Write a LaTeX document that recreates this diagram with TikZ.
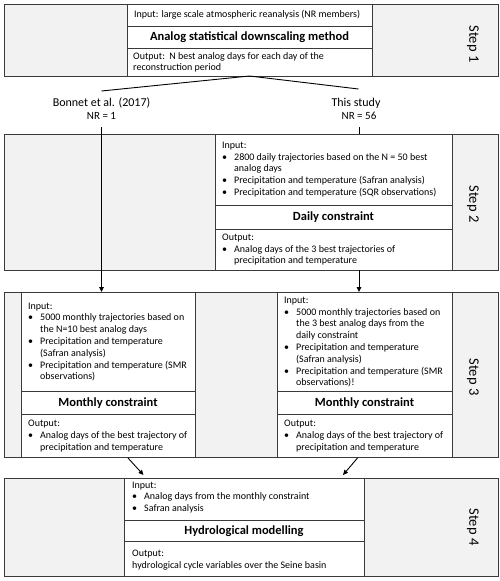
\documentclass[tikz,border=0pt]{standalone}
\usepackage{fontspec}
\setmainfont{Carlito}
\usetikzlibrary{arrows.meta}
\definecolor{panelgray}{HTML}{F2F2F2}
\definecolor{linec}{HTML}{3A3A3A}
\newcommand{\bl}{\makebox[12pt][l]{\textbullet}}
\newcommand{\ind}{\hspace*{12pt}}
\begin{document}
\begin{tikzpicture}[x=1pt,y=-1pt,
  panel/.style={draw=linec, line width=1pt, fill=panelgray, anchor=north west, inner sep=0pt, outer sep=0pt},
  cell/.style={draw=linec, line width=0.9pt, fill=white, anchor=north west, inner sep=0pt, outer sep=0pt},
  body/.style={anchor=west, align=left, inner sep=0pt, font=\fontsize{10}{11.8}\selectfont},
  title/.style={font=\fontsize{12.5}{14}\selectfont\bfseries},
  steplabel/.style={rotate=-90, font=\fontsize{14.5}{16}\selectfont, inner sep=0pt},
  src/.style={font=\fontsize{12}{14}\selectfont, inner sep=0pt},
  nrlab/.style={font=\fontsize{11}{13}\selectfont, inner sep=0pt},
  conn/.style={draw=black, line width=0.9pt},
  arr/.style={conn, -{Triangle[length=5pt,width=4.5pt]}},
]
\useasboundingbox (0,0) rectangle (500,581);

% ---------- Step 1 ----------
\node[panel, minimum width=494pt, minimum height=72pt] (p1) at (4,4) {};
\node[cell, minimum width=245pt, minimum height=22.3pt] (s1in) at (127,4) {};
\node[cell, title, minimum width=245pt, minimum height=22pt] (s1t) at (127,26.3) {Analog statistical downscaling method};
\node[cell, minimum width=245pt, minimum height=27.7pt] (s1out) at (127,48.3) {};
\node[body] (t1in) at (134,15) {Input: large scale atmospheric reanalysis (NR members)};
\node[body] (t1out) at (133,62.3) {Output:\ \ N best analog days for each day of the\\reconstruction period};
\node[steplabel] (l1) at (473,44) {Step 1};

% ---------- Step 2 ----------
\node[panel, minimum width=494pt, minimum height=136pt] (p2) at (4,134) {};
\node[cell, minimum width=237pt, minimum height=71pt] (s2in) at (215,134) {};
\node[cell, title, minimum width=237pt, minimum height=24pt] (s2t) at (215,205) {Daily constraint};
\node[cell, minimum width=237pt, minimum height=41pt] (s2out) at (215,229) {};
\node[body] (t2in) at (222,169.5) {Input:\\
\bl 2800 daily trajectories based on the N = 50 best\\
\ind analog days\\
\bl Precipitation and temperature (Safran analysis)\\
\bl Precipitation and temperature (SQR observations)};
\node[body] (t2out) at (222,249.7) {Output:\\
\bl Analog days of the 3 best trajectories of\\
\ind precipitation and temperature};
\node[steplabel] (l2) at (473,204) {Step 2};

% ---------- Step 3 ----------
\node[panel, minimum width=494pt, minimum height=165pt] (p3) at (4,292) {};
\node[cell, minimum width=174pt, minimum height=99pt] (s3lin) at (21,292) {};
\node[cell, title, minimum width=174pt, minimum height=23.3pt] (s3lt) at (21,391) {Monthly constraint};
\node[cell, minimum width=174pt, minimum height=42.7pt] (s3lout) at (21,414.3) {};
\node[cell, minimum width=175pt, minimum height=99pt] (s3rin) at (277,292) {};
\node[cell, title, minimum width=175pt, minimum height=23.3pt] (s3rt) at (277,391) {Monthly constraint};
\node[cell, minimum width=175pt, minimum height=42.7pt] (s3rout) at (277,414.3) {};
\node[body] (t3lin) at (28,342) {Input:\\
\bl 5000 monthly trajectories based on\\
\ind the N=10 best analog days\\
\bl Precipitation and temperature\\
\ind (Safran analysis)\\
\bl Precipitation and temperature (SMR\\
\ind observations)};
\node[body] (t3lout) at (28,436) {Output:\\
\bl Analog days of the best trajectory of\\
\ind precipitation and temperature};
\node[body] (t3rin) at (284,342) {Input:\\
\bl 5000 monthly trajectories based on\\
\ind the 3 best analog days from the\\
\ind daily constraint\\
\bl Precipitation and temperature\\
\ind (Safran analysis)\\
\bl Precipitation and temperature (SMR\\
\ind observations)!};
\node[body] (t3rout) at (284,436) {Output:\\
\bl Analog days of the best trajectory of\\
\ind precipitation and temperature};
\node[steplabel] (l3) at (473,377) {Step 3};

% ---------- Step 4 ----------
\node[panel, minimum width=494pt, minimum height=98pt] (p4) at (4,478) {};
\node[cell, minimum width=240pt, minimum height=42pt] (s4in) at (124,478) {};
\node[cell, title, minimum width=240pt, minimum height=21.7pt] (s4t) at (124,520) {Hydrological modelling};
\node[cell, minimum width=240pt, minimum height=34.3pt] (s4out) at (124,541.7) {};
\node[body] (t4in) at (132,497.5) {Input:\\
\bl Analog days from the monthly constraint\\
\bl Safran analysis};
\node[body] (t4out) at (132,560) {Output:\\
hydrological cycle variables over the Seine basin};
\node[steplabel] (l4) at (473,527) {Step 4};

% ---------- branch labels ----------
\node[src] (bonnet) at (101.5,103) {Bonnet et al. (2017)};
\node[nrlab] (nr1) at (101.5,116) {NR = 1};
\node[src] (this) at (356,103) {This study};
\node[nrlab] (nr56) at (359,116) {NR = 56};

\coordinate (bl) at (101.5,91);
\coordinate (br) at (358.5,89);
\coordinate (v1) at (101.5,127);
\coordinate (v2) at (359,127);
\coordinate (a4ls) at (128,458);
\coordinate (a4le) at (143.5,475);
\coordinate (a4rs) at (357.5,458);
\coordinate (a4re) at (343,475);

% ---------- connectors ----------
\draw[conn] (s1out.south) -- (bl);
\draw[conn] (s1out.south) -- (br);
\draw[arr] (v1) -- (v1 |- s3lin.north);
\draw[conn] (v2) -- (v2 |- s2in.north);
\draw[arr] (v2 |- s2out.south) -- (v2 |- s3rin.north);
\draw[arr] (a4ls) -- (a4le);
\draw[arr] (a4rs) -- (a4re);
\end{tikzpicture}
\end{document}
